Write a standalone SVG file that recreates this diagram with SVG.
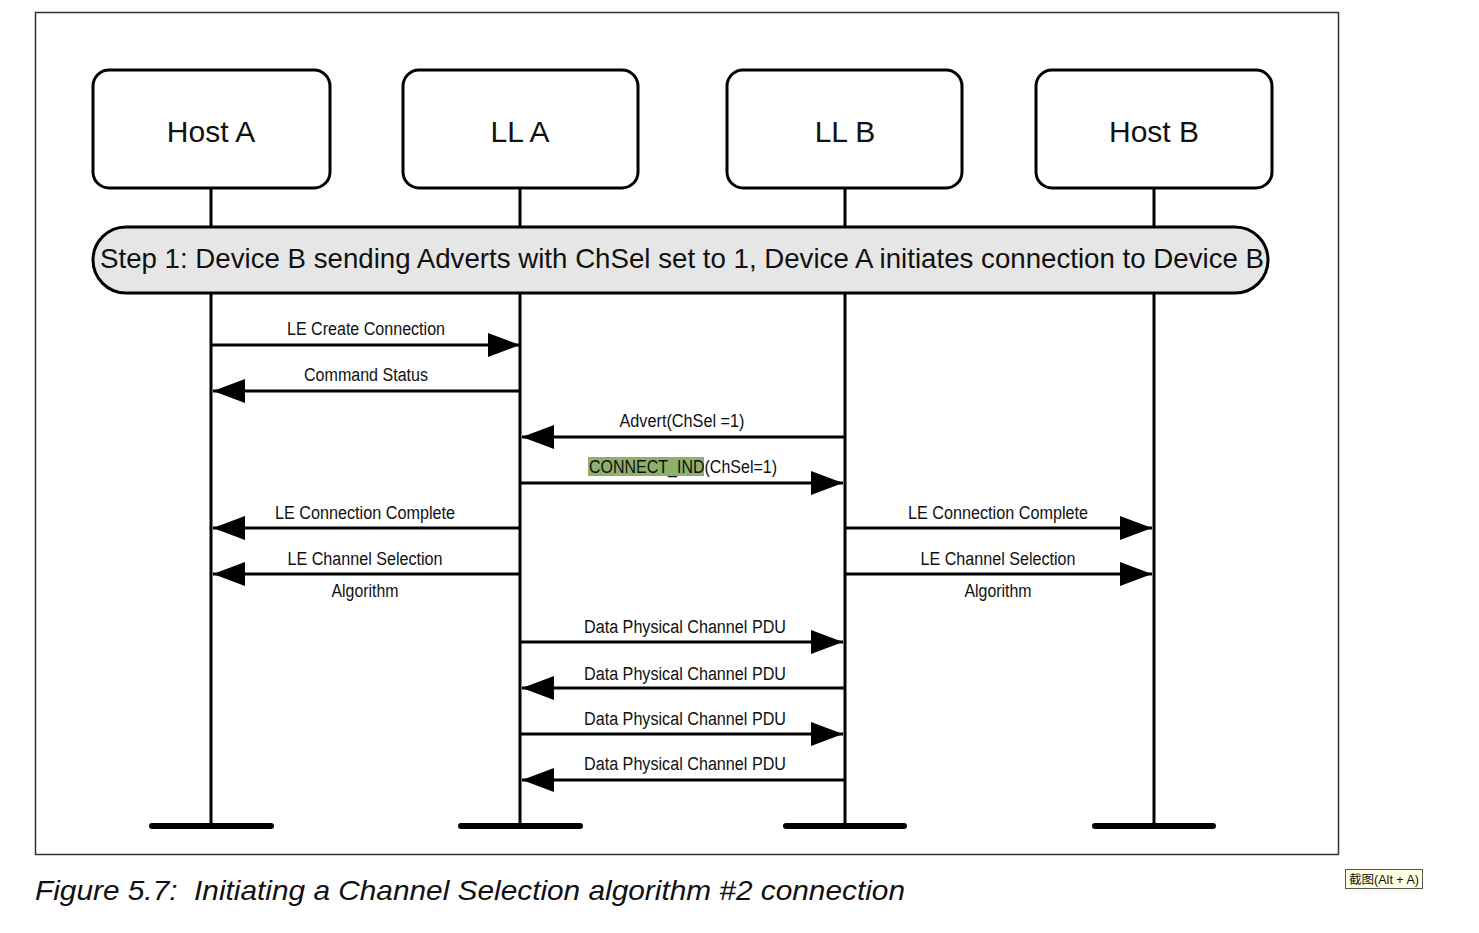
<svg xmlns="http://www.w3.org/2000/svg" width="1479" height="933" viewBox="0 0 1479 933">
<style>
.node rect{fill:#fff;stroke:#000;stroke-width:3}
.node text{font-family:"Liberation Sans",Arial,sans-serif;font-size:30px;text-anchor:middle;fill:#111}
.life{stroke:#000;stroke-width:3;fill:none}
.foot{stroke:#000;stroke-width:6;stroke-linecap:round}
.msg{stroke:#000;stroke-width:3;fill:none}
.lbl{font-family:"Liberation Sans",Arial,sans-serif;font-size:18px;text-anchor:middle;fill:#111}
.lbls{font-family:"Liberation Sans",Arial,sans-serif;font-size:18px;text-anchor:start;fill:#111}
</style>
<defs>
<marker id="ah" markerUnits="userSpaceOnUse" markerWidth="32" markerHeight="24" refX="32" refY="12" orient="auto">
<path d="M0,0 L32,12 L0,24 Z" fill="#000"/>
</marker>
</defs>
<rect width="1479" height="933" fill="#fff"/>
<rect x="35.5" y="12.5" width="1303" height="842" fill="none" stroke="#333" stroke-width="1.5"/>

<g id="lifelines">
<line class="life" x1="211" y1="188" x2="211" y2="826"/>
<line class="life" x1="520" y1="188" x2="520" y2="826"/>
<line class="life" x1="845" y1="188" x2="845" y2="826"/>
<line class="life" x1="1154" y1="188" x2="1154" y2="826"/>
<line class="foot" x1="152" y1="826" x2="271" y2="826"/>
<line class="foot" x1="461" y1="826" x2="580" y2="826"/>
<line class="foot" x1="786" y1="826" x2="904" y2="826"/>
<line class="foot" x1="1095" y1="826" x2="1213" y2="826"/>
</g>

<g id="hostA" class="node"><rect x="93" y="70" width="237" height="118" rx="16"/><text x="211" y="142">Host A</text></g>
<g id="llA" class="node"><rect x="403" y="70" width="235" height="118" rx="16"/><text x="520" y="142">LL A</text></g>
<g id="llB" class="node"><rect x="727" y="70" width="235" height="118" rx="16"/><text x="845" y="142">LL B</text></g>
<g id="hostB" class="node"><rect x="1036" y="70" width="236" height="118" rx="16"/><text x="1154" y="142">Host B</text></g>

<g id="step1">
<rect x="93" y="227" width="1175" height="66" rx="33" fill="#e6e6e6" stroke="#000" stroke-width="3"/>
<text x="682" y="268" font-family="Liberation Sans,Arial,sans-serif" font-size="28" text-anchor="middle" fill="#111" textLength="1164" lengthAdjust="spacingAndGlyphs">Step 1: Device B sending Adverts with ChSel set to 1, Device A initiates connection to Device B</text>
</g>

<g id="connectors">
<line class="msg" x1="211" y1="345" x2="520" y2="345" marker-end="url(#ah)"/>
<line class="msg" x1="520" y1="391" x2="213" y2="391" marker-end="url(#ah)"/>
<line class="msg" x1="845" y1="437" x2="522" y2="437" marker-end="url(#ah)"/>
<line class="msg" x1="520" y1="483" x2="843" y2="483" marker-end="url(#ah)"/>
<line class="msg" x1="520" y1="528" x2="213" y2="528" marker-end="url(#ah)"/>
<line class="msg" x1="845" y1="528" x2="1152" y2="528" marker-end="url(#ah)"/>
<line class="msg" x1="520" y1="574" x2="213" y2="574" marker-end="url(#ah)"/>
<line class="msg" x1="845" y1="574" x2="1152" y2="574" marker-end="url(#ah)"/>
<line class="msg" x1="520" y1="642" x2="843" y2="642" marker-end="url(#ah)"/>
<line class="msg" x1="845" y1="688" x2="522" y2="688" marker-end="url(#ah)"/>
<line class="msg" x1="520" y1="734" x2="843" y2="734" marker-end="url(#ah)"/>
<line class="msg" x1="845" y1="780" x2="522" y2="780" marker-end="url(#ah)"/>
</g>

<g id="labels">
<text class="lbl" x="366" y="335" textLength="158" lengthAdjust="spacingAndGlyphs">LE Create Connection</text>
<text class="lbl" x="366" y="381" textLength="124" lengthAdjust="spacingAndGlyphs">Command Status</text>
<text class="lbl" x="682" y="427" textLength="125" lengthAdjust="spacingAndGlyphs">Advert(ChSel =1)</text>
<rect x="588" y="457" width="116" height="19" fill="#8faf6c"/>
<text class="lbls" x="589" y="473" textLength="188" lengthAdjust="spacingAndGlyphs">CONNECT_IND(ChSel=1)</text>
<text class="lbl" x="365" y="519" textLength="180" lengthAdjust="spacingAndGlyphs">LE Connection Complete</text>
<text class="lbl" x="998" y="519" textLength="180" lengthAdjust="spacingAndGlyphs">LE Connection Complete</text>
<text class="lbl" x="365" y="565" textLength="155" lengthAdjust="spacingAndGlyphs">LE Channel Selection</text>
<text class="lbl" x="365" y="597" textLength="67" lengthAdjust="spacingAndGlyphs">Algorithm</text>
<text class="lbl" x="998" y="565" textLength="155" lengthAdjust="spacingAndGlyphs">LE Channel Selection</text>
<text class="lbl" x="998" y="597" textLength="67" lengthAdjust="spacingAndGlyphs">Algorithm</text>
<text class="lbl" x="685" y="633" textLength="202" lengthAdjust="spacingAndGlyphs">Data Physical Channel PDU</text>
<text class="lbl" x="685" y="680" textLength="202" lengthAdjust="spacingAndGlyphs">Data Physical Channel PDU</text>
<text class="lbl" x="685" y="725" textLength="202" lengthAdjust="spacingAndGlyphs">Data Physical Channel PDU</text>
<text class="lbl" x="685" y="770" textLength="202" lengthAdjust="spacingAndGlyphs">Data Physical Channel PDU</text>
</g>

<text x="35" y="900" font-family="Liberation Sans,Arial,sans-serif" font-size="28" font-style="italic" fill="#111" textLength="870" lengthAdjust="spacingAndGlyphs" xml:space="preserve">Figure 5.7:  Initiating a Channel Selection algorithm #2 connection</text>

<g id="tooltip">
<rect x="1345.5" y="869.5" width="77" height="19" fill="#ffffe1" stroke="#555" stroke-width="1"/>
<text x="1384" y="884" font-family="Liberation Sans,'Noto Sans CJK SC',sans-serif" font-size="12" text-anchor="middle" fill="#111" textLength="70" lengthAdjust="spacingAndGlyphs">截图(Alt + A)</text>
</g>
</svg>
